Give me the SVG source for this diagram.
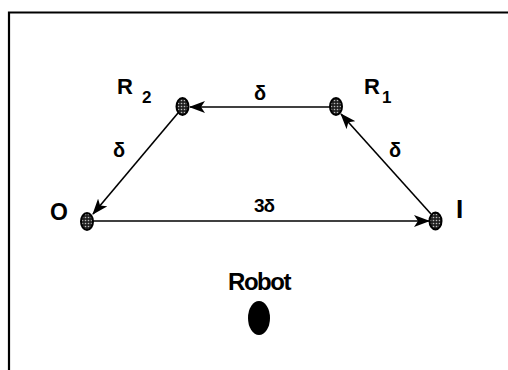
<svg xmlns="http://www.w3.org/2000/svg" width="508" height="370" viewBox="0 0 508 370">
<style>
.lbl{font-family:"Liberation Sans",Arial,sans-serif;font-weight:bold;fill:#000}
.greek{font-family:"Liberation Sans","DejaVu Sans",sans-serif;font-weight:bold;fill:#000}
.node{fill:url(#dots);stroke:#000;stroke-width:2}
.edge{stroke:#000;stroke-width:1.6;fill:none;marker-end:url(#ah)}
</style>
<defs>
<pattern id="dots" width="3" height="3" patternUnits="userSpaceOnUse">
<rect width="3" height="3" fill="#222"/>
<circle cx="1.5" cy="1.5" r="0.8" fill="#bbb"/>
</pattern>
<marker id="ah" viewBox="0 0 16 12" refX="15" refY="6" markerWidth="16" markerHeight="12" markerUnits="userSpaceOnUse" orient="auto">
<path d="M0,0 L16,6 L0,12 L4,6 Z" fill="#000"/>
</marker>
</defs>
<rect width="508" height="370" fill="#fff"/>
<path d="M9,370 V12.5 H508" fill="none" stroke="#000" stroke-width="2.2"/>
<g id="connectors">
<line class="edge" x1="330" y1="107" x2="190" y2="107"/>
<line class="edge" x1="178" y1="113" x2="93" y2="214"/>
<line class="edge" x1="93" y1="221" x2="429" y2="221"/>
<line class="edge" x1="431" y1="214" x2="341" y2="114"/>
<text class="greek" x="260" y="100" font-size="20" text-anchor="middle">δ</text>
<text class="greek" x="119" y="157" font-size="20" text-anchor="middle">δ</text>
<text class="greek" x="395" y="157" font-size="20" text-anchor="middle">δ</text>
<text class="greek" x="264" y="212" font-size="19" text-anchor="middle" letter-spacing="-1">3δ</text>
</g>
<g id="R2">
<ellipse class="node" cx="182.5" cy="106.5" rx="6" ry="8.5"/>
<text class="lbl" x="117" y="94" font-size="22">R</text>
<text class="lbl" x="142" y="103" font-size="17">2</text>
</g>
<g id="R1">
<ellipse class="node" cx="336" cy="106.5" rx="6" ry="8.5"/>
<text class="lbl" x="364" y="94" font-size="22">R</text>
<text class="lbl" x="382" y="103" font-size="17">1</text>
</g>
<g id="O">
<ellipse class="node" cx="87" cy="221.5" rx="6" ry="8.5"/>
<text class="lbl" x="50" y="220" font-size="23">O</text>
</g>
<g id="I">
<ellipse class="node" cx="435.5" cy="221" rx="6" ry="8.5"/>
<text class="lbl" x="456" y="218" font-size="26">I</text>
</g>
<g id="Robot">
<text class="lbl" x="259" y="290" font-size="24" text-anchor="middle" letter-spacing="-1.5">Robot</text>
<ellipse cx="259" cy="318" rx="11" ry="17" fill="#000"/>
</g>
</svg>
